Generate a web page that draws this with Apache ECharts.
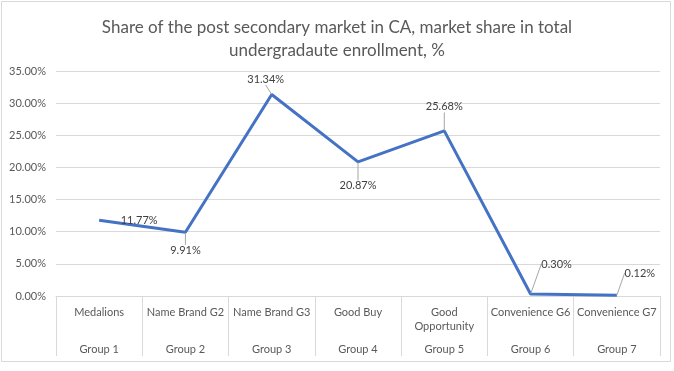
<!DOCTYPE html>
<html>
<head>
<meta charset="utf-8">
<script src="https://cdn.jsdelivr.net/npm/echarts@6/dist/echarts.min.js"></script>
<style>
html,body{margin:0;padding:0;background:#fff;}
#chart{width:674px;height:371px;}
</style>
</head>
<body>
<div id="chart"></div>
<script>
const titleText = 'Share of the post secondary market in CA, market share in total\nundergradaute enrollment, %';
const categoryLine1 = ['Medalions', 'Name Brand G2', 'Name Brand G3', 'Good Buy', 'Good', 'Convenience G6', 'Convenience G7'];
const categoryLine2 = ['', '', '', '', 'Opportunity', '', ''];
const groupLabels = ['Group 1', 'Group 2', 'Group 3', 'Group 4', 'Group 5', 'Group 6', 'Group 7'];
const shareValues = [11.77, 9.91, 31.34, 20.87, 25.68, 0.30, 0.12];
const yTicks = { min: 0, max: 35, interval: 5 };
const labelShift = [[40, 0], [0, 18], [-6, -15], [0, 24], [0, -24], [26, -30], [23, -22]];
const leaderShown = [false, true, true, true, true, true, true];

const FONT = 'Lato, "Liberation Sans", sans-serif';
const chart = echarts.init(document.getElementById('chart'), null, { renderer: 'canvas' });

const categories = categoryLine1.map((a, i) => a + '|' + categoryLine2[i] + '|' + groupLabels[i]);
const seriesData = shareValues.map((v, i) => ({ value: v, labelLine: { show: leaderShown[i] } }));

chart.setOption({
  animation: false,
  backgroundColor: '#fff',
  graphic: [{
    type: 'rect',
    shape: { x: 1.5, y: 1.5, width: 669, height: 360 },
    style: { fill: 'none', stroke: '#d9d9d9', lineWidth: 1 },
    silent: true, z: -1
  }],
  title: {
    text: titleText,
    left: 'center',
    top: 11,
    textStyle: { fontFamily: FONT, fontSize: 17, fontWeight: 'normal', color: '#595959', lineHeight: 23 }
  },
  grid: { left: 56, right: 14, top: 71, bottom: 75, containLabel: false },
  xAxis: {
    type: 'category',
    data: categories,
    boundaryGap: true,
    axisLine: { show: true, lineStyle: { color: '#d9d9d9', width: 1 } },
    axisTick: { show: true, interval: 0, length: 60, lineStyle: { color: '#d9d9d9' } },
    axisLabel: {
      interval: 0,
      margin: 9,
      color: '#595959',
      fontFamily: FONT,
      fontSize: 11,
      formatter: function (v) {
        const p = v.split('|');
        return '{a|' + p[0] + '}\n{a|' + (p[1] || ' ') + '}\n{g|' + p[2] + '}';
      },
      rich: {
        a: { fontFamily: FONT, fontSize: 11, color: '#595959', lineHeight: 14 },
        g: { fontFamily: FONT, fontSize: 11, color: '#595959', lineHeight: 32 }
      }
    }
  },
  yAxis: {
    type: 'value',
    min: yTicks.min,
    max: yTicks.max,
    interval: yTicks.interval,
    axisLine: { show: false },
    axisTick: { show: false },
    splitLine: { lineStyle: { color: '#d9d9d9', width: 1 } },
    axisLabel: {
      margin: 10,
      color: '#595959',
      fontFamily: FONT,
      fontSize: 11,
      formatter: v => v.toFixed(2) + '%'
    }
  },
  series: [{
    type: 'line',
    data: seriesData,
    showSymbol: true,
    symbol: 'circle',
    symbolSize: 1,
    itemStyle: { color: 'rgba(0,0,0,0)', borderWidth: 0 },
    lineStyle: { color: '#4472c4', width: 3 },
    label: {
      show: true,
      position: 'inside',
      color: '#404040',
      fontFamily: FONT,
      fontSize: 11,
      formatter: p => p.value.toFixed(2) + '%'
    },
    labelLine: { show: true, lineStyle: { color: '#a6a6a6', width: 1 } },
    labelLayout: function (params) {
      const s = labelShift[params.dataIndex];
      return { dx: s[0], dy: s[1], hideOverlap: false };
    }
  }]
});
</script>
</body>
</html>
